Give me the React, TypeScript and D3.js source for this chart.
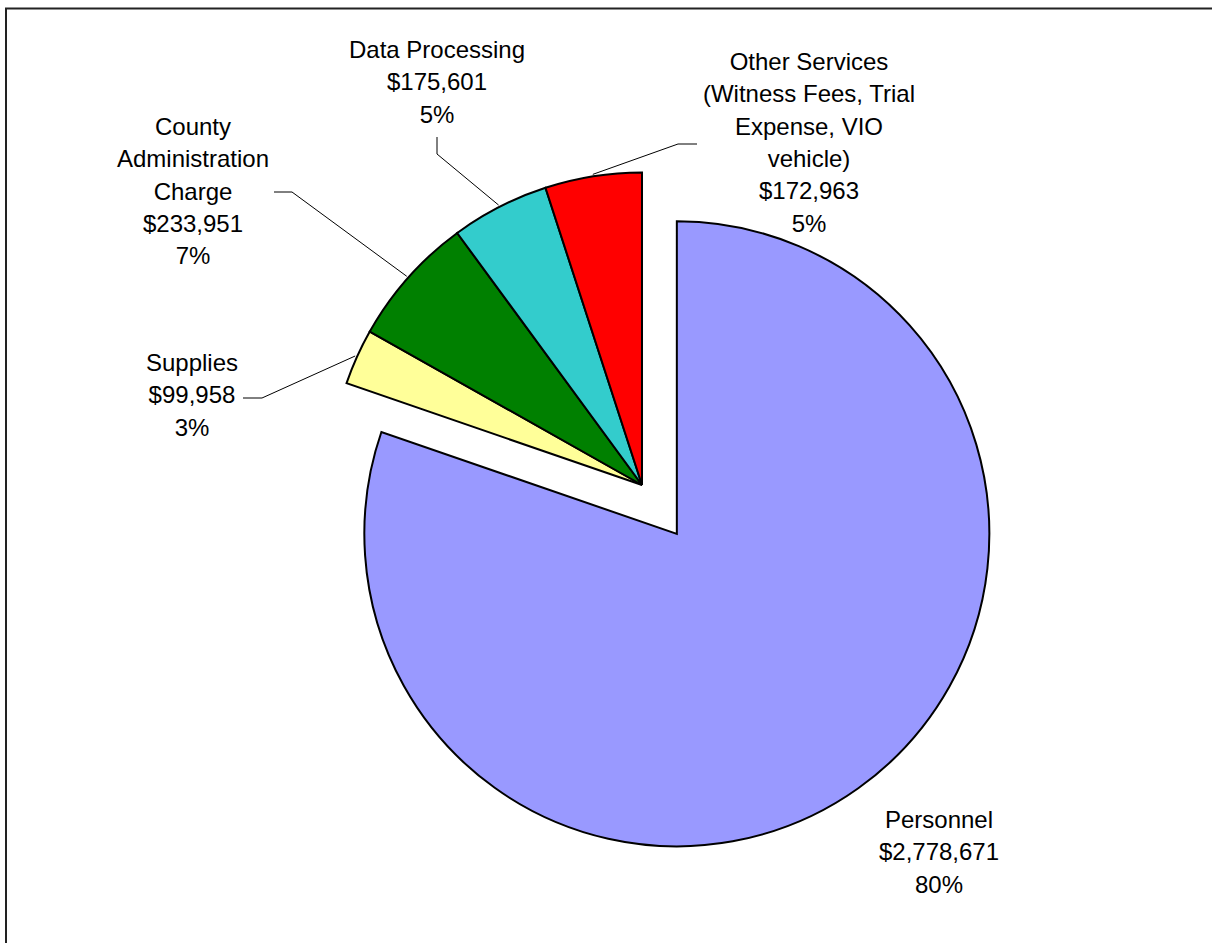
import React from "react";
import * as d3 from "d3";

// slice data, clockwise from 12 o'clock
const categories = [
  "Personnel",
  "Supplies",
  "County Administration Charge",
  "Data Processing",
  "Other Services (Witness Fees, Trial Expense, VIO vehicle)",
];
const labelLines = [
  ["Personnel"],
  ["Supplies"],
  ["County", "Administration", "Charge"],
  ["Data Processing"],
  ["Other Services", "(Witness Fees, Trial", "Expense, VIO", "vehicle)"],
];
const amounts = [2778671, 99958, 233951, 175601, 172963];
const colors = ["#9999FF", "#FFFF99", "#008000", "#33CCCC", "#FF0000"];
const exploded = [true, false, false, false, false];

// label placement: centre x, first baseline, leader elbow points
const labelLayout = [
  { x: 939, y: 828, leader: null },
  { x: 192, y: 371, leader: [[243, 398], [262, 398]] },
  { x: 193, y: 135, leader: [[274, 192], [292, 192]] },
  { x: 437, y: 58, leader: [[437, 137], [437, 154]] },
  { x: 809, y: 70, leader: [[697, 144], [678, 144]] },
];

const W = 1212;
const H = 943;
const cx = 642;
const cy = 485;
const radius = 312.5;
const explodeBy = 60;
const lineHeight = 32.3;

const App = () => {
  const total = d3.sum(amounts);
  const pie = d3
    .pie<number>()
    .sort(null)
    .value((d) => d);
  const arcs = pie(amounts);
  const arc = d3.arc<d3.PieArcDatum<number>>().innerRadius(0).outerRadius(radius);

  const fmtMoney = d3.format("$,");
  const fmtPct = d3.format(".0%");

  return (
    <svg
      width={W}
      height={H}
      style={{ position: "absolute", left: 0, top: 0, background: "#fff" }}
      fontFamily="'Liberation Sans', Arial, sans-serif"
      fontSize={24}
    >
      <rect x={6} y={8.5} width={W + 100} height={H + 100} fill="#fff" stroke="#222" strokeWidth={2} />

      {/* slices */}
      {arcs.map((a, i) => {
        const mid = (a.startAngle + a.endAngle) / 2;
        const off = exploded[i] ? explodeBy : 0;
        const dx = cx + off * Math.sin(mid);
        const dy = cy - off * Math.cos(mid);
        return (
          <path
            key={categories[i]}
            d={arc(a) as string}
            transform={`translate(${dx},${dy})`}
            fill={colors[i]}
            stroke="#000"
            strokeWidth={2}
            strokeLinejoin="miter"
          />
        );
      })}

      {/* leader lines */}
      {arcs.map((a, i) => {
        const lay = labelLayout[i];
        if (!lay.leader) return null;
        const mid = (a.startAngle + a.endAngle) / 2;
        const off = exploded[i] ? explodeBy : 0;
        const rr = radius + off + 2;
        const end: [number, number] = [cx + rr * Math.sin(mid), cy - rr * Math.cos(mid)];
        const pts = [...lay.leader, end] as [number, number][];
        return (
          <path
            key={"leader-" + i}
            d={d3.line()(pts) as string}
            fill="none"
            stroke="#000"
            strokeWidth={1}
          />
        );
      })}

      {/* labels */}
      {arcs.map((a, i) => {
        const lay = labelLayout[i];
        const lines = [...labelLines[i], fmtMoney(amounts[i]), fmtPct(amounts[i] / total)];
        return (
          <text key={"label-" + i} x={lay.x} y={lay.y} textAnchor="middle" fill="#000">
            {lines.map((t, j) => (
              <tspan key={j} x={lay.x} dy={j === 0 ? 0 : lineHeight}>
                {t}
              </tspan>
            ))}
          </text>
        );
      })}
    </svg>
  );
};

export default App;
